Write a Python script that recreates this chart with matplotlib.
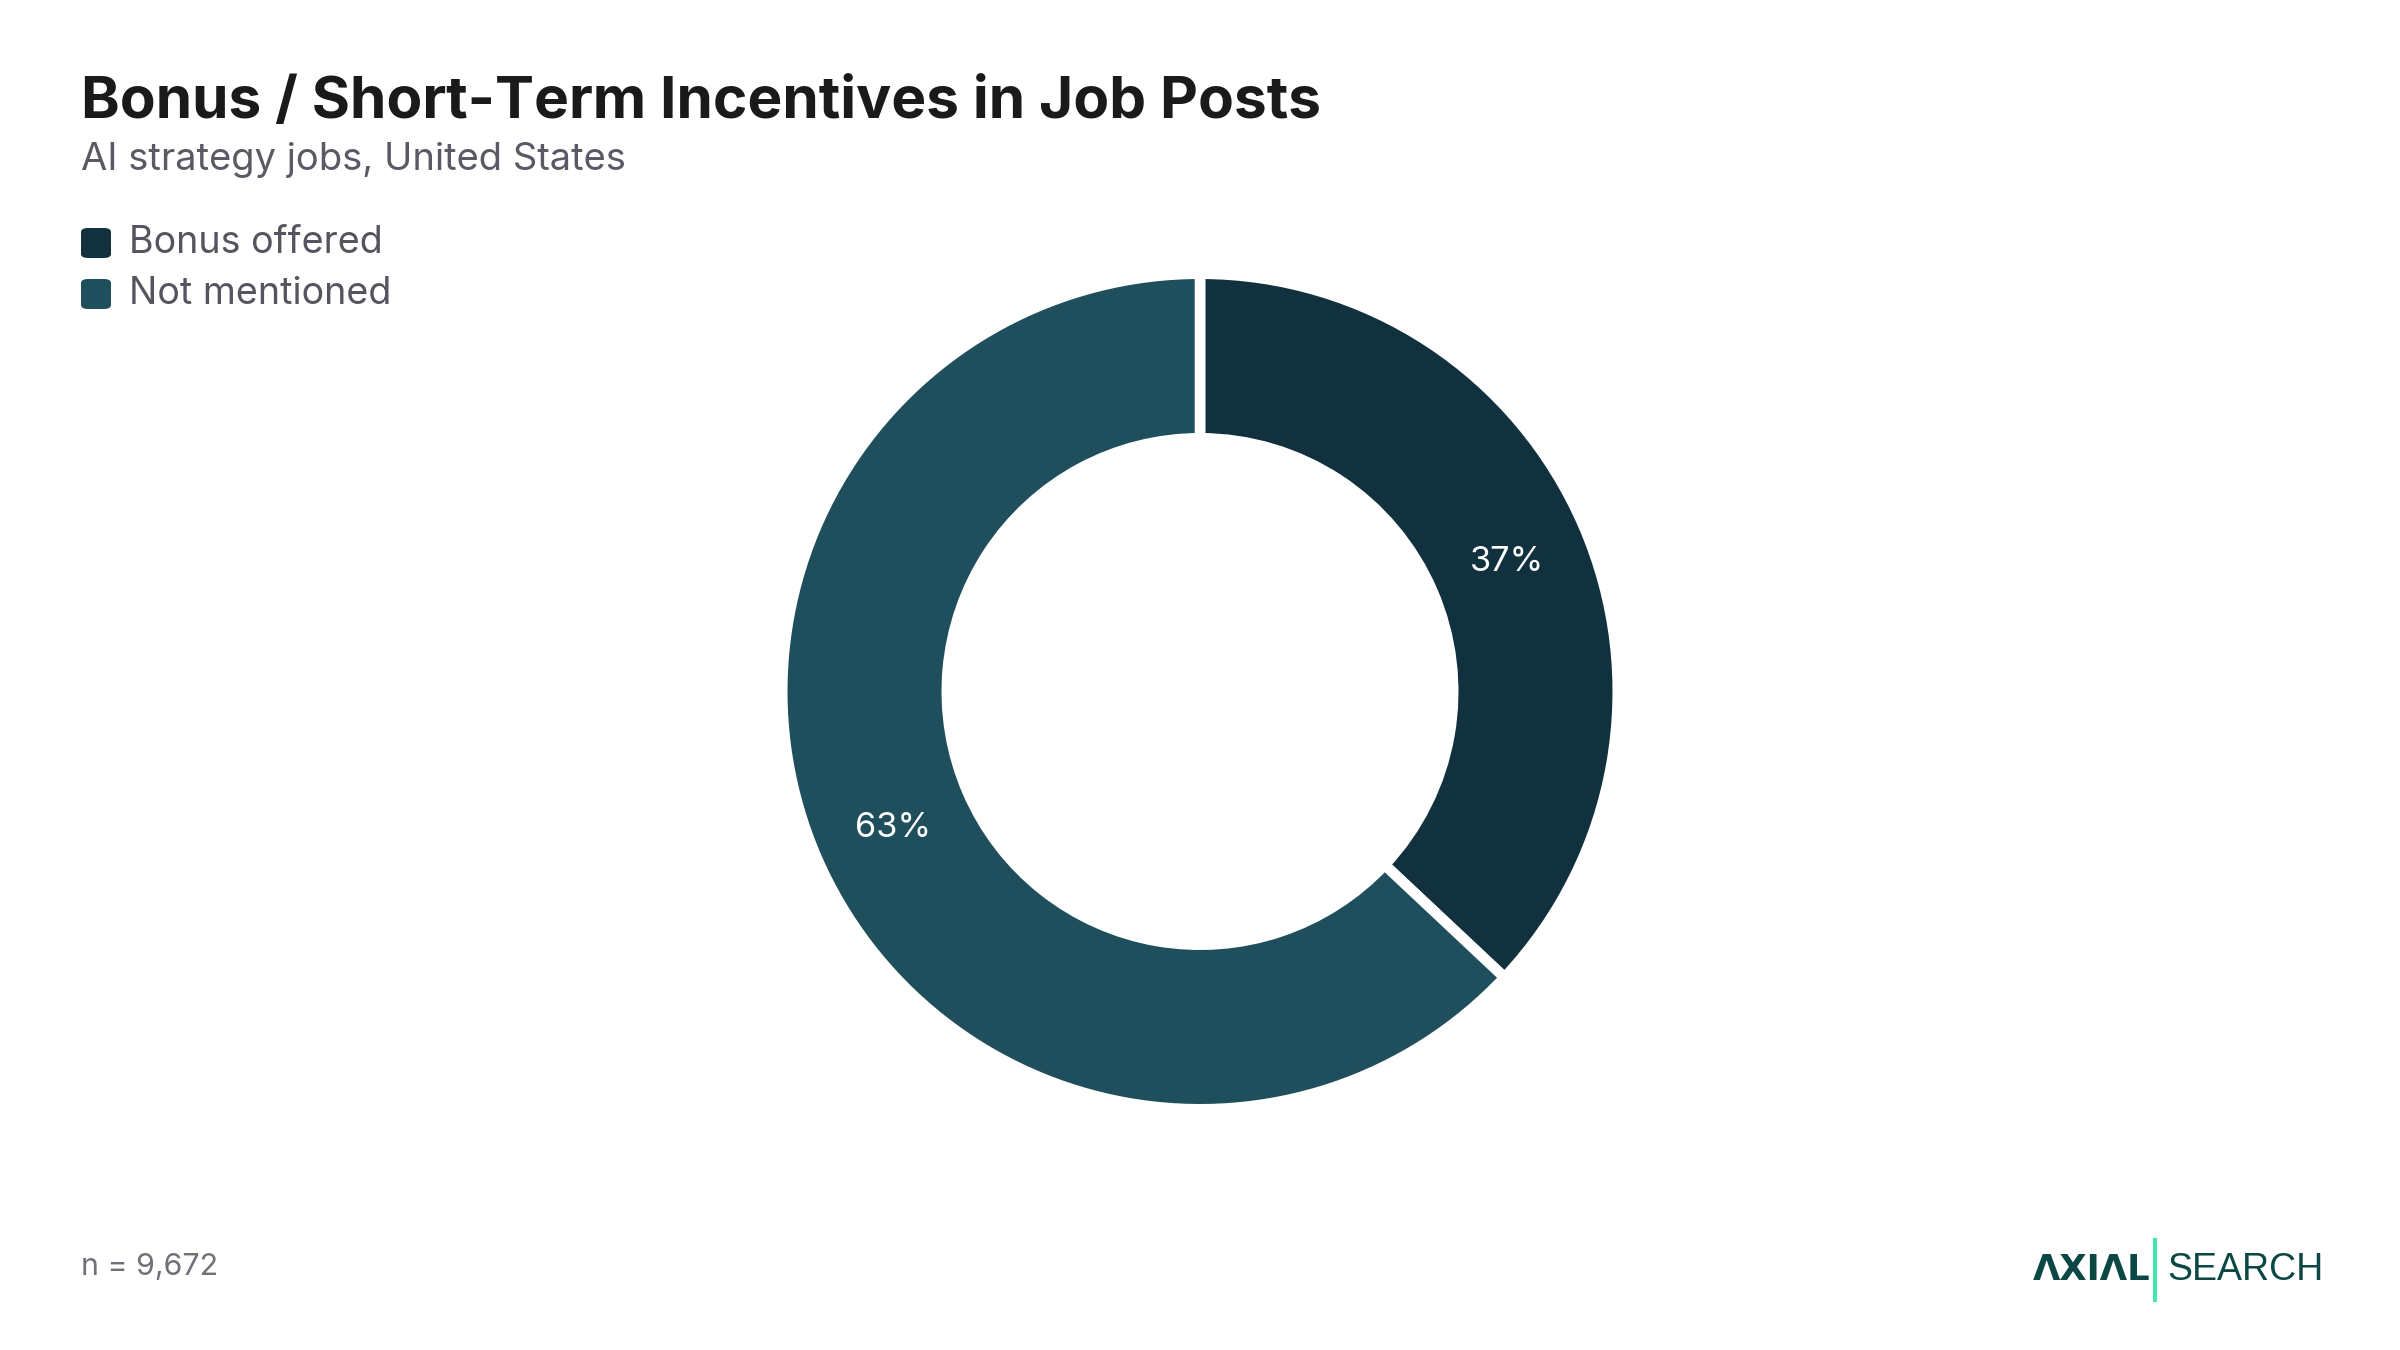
import matplotlib
matplotlib.use("Agg")
import matplotlib.pyplot as plt
from matplotlib.patches import FancyBboxPatch, Rectangle

# --- datos ---
categorias = ["Bonus offered", "Not mentioned"]
porcentajes = [37, 63]
colores = ["#10313d", "#1f4e5c"]
titulo = "Bonus / Short-Term Incentives in Job Posts"
subtitulo = "AI strategy jobs, United States"
nota = "n = 9,672"

W, H = 2400, 1350
fig = plt.figure(figsize=(16, 9), dpi=150, facecolor="white")


def fx(px):
    return px / W


def fy(py):
    # py medido desde arriba
    return 1 - py / H


# --- textos de cabecera ---
fig.text(fx(81), fy(118), titulo, fontsize=28.1, fontweight="bold",
         family="Inter", color="#1a1a1a", va="baseline", ha="left")
fig.text(fx(81), fy(170), subtitulo, fontsize=18.3, family="Inter",
         color="#5a5a66", va="baseline", ha="left")

# --- leyenda manual ---
for i, (cat, col) in enumerate(zip(categorias, colores)):
    cy = 243 + i * 51
    caja = FancyBboxPatch((fx(81), fy(cy + 15)), fx(30), 30 / H,
                          boxstyle="round,pad=0,rounding_size=0.003",
                          transform=fig.transFigure, facecolor=col,
                          edgecolor="none")
    fig.patches.append(caja)
    fig.text(fx(129), fy(cy), cat, fontsize=18.1, family="Inter",
             color="#55555f", va="center", ha="left")

# --- donut ---
R = 417.8  # radio exterior en px
ax = fig.add_axes([(1200 - 450) / W, (H - 691.5 - 450) / H, 900 / W, 900 / H])
cunas, textos, autotextos = ax.pie(
    porcentajes, colors=colores, startangle=90, counterclock=False,
    radius=1, autopct="%d%%", pctdistance=0.80,
    wedgeprops=dict(width=0.394, edgecolor="white", linewidth=5.1),
    textprops=dict(color="white", fontsize=16.5, family="Inter"))
for t in autotextos:
    t.set_va("center_baseline")
lim = 450 / R
ax.set_xlim(-lim, lim)
ax.set_ylim(-lim, lim)
ax.set_aspect("equal")
ax.axis("off")

# --- pie de página ---
fig.text(fx(81), fy(1267), nota, fontsize=14.6, family="Inter",
         color="#707078", va="center", ha="left")

# logo
fig.text(fx(2033), fy(1270), "ΛXIΛL", fontsize=17, fontweight="bold",
         family="DejaVu Sans", color="#0b4744", va="center", ha="left")
fig.patches.append(Rectangle((fx(2153), fy(1302)), fx(4), 64 / H,
                             transform=fig.transFigure,
                             facecolor="#3ee8b0", edgecolor="none"))
fig.text(fx(2167), fy(1270), "SEARCH", fontsize=18, family="Liberation Sans",
         color="#0b4744", va="center", ha="left")

fig.savefig("out.png", dpi=150, facecolor="white")
